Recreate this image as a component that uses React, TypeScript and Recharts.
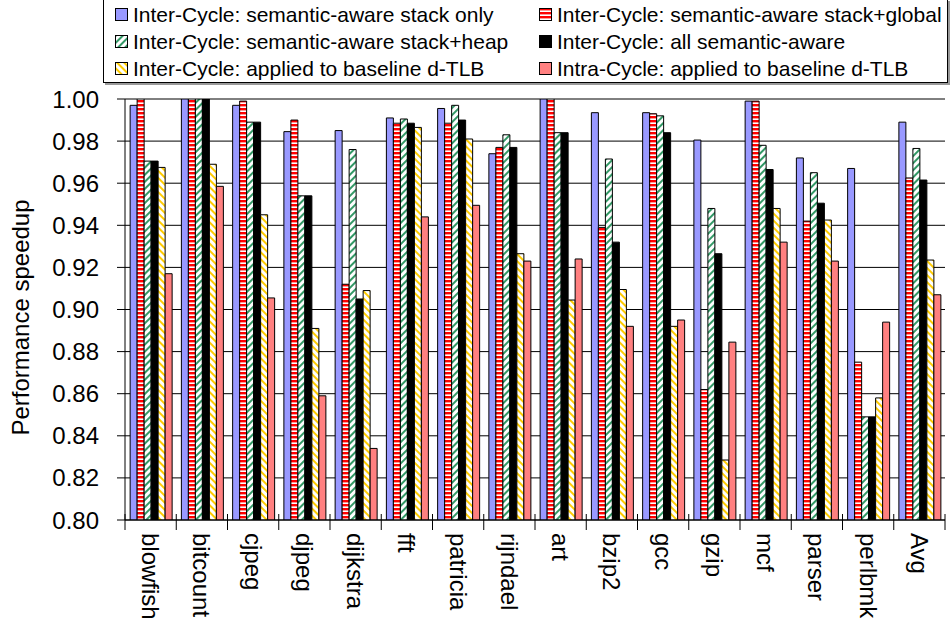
import React from 'react';
import { BarChart, Bar, XAxis, YAxis, CartesianGrid, Legend, Label } from 'recharts';

// Benchmarks on the x axis
const categories = ['blowfish', 'bitcount', 'cjpeg', 'djpeg', 'dijkstra', 'fft', 'patricia', 'rijndael', 'art', 'bzip2', 'gcc', 'gzip', 'mcf', 'parser', 'perlbmk', 'Avg'];

// Performance speedup per configuration
const stackOnly = [0.997, 1.0, 0.997, 0.9845, 0.985, 0.991, 0.9955, 0.974, 1.0, 0.9935, 0.9935, 0.9805, 0.999, 0.972, 0.967, 0.989];
const stackGlobal = [1.0, 1.0, 0.999, 0.990, 0.912, 0.9885, 0.9885, 0.977, 1.0, 0.939, 0.993, 0.862, 0.999, 0.942, 0.875, 0.9625];
const stackHeap = [0.9705, 1.0, 0.989, 0.954, 0.976, 0.9905, 0.997, 0.983, 0.984, 0.9715, 0.992, 0.948, 0.978, 0.965, 0.849, 0.9765];
const allSemantic = [0.9705, 1.0, 0.989, 0.954, 0.905, 0.9885, 0.990, 0.977, 0.984, 0.932, 0.984, 0.9265, 0.9665, 0.9505, 0.849, 0.9615];
const interBaseline = [0.9675, 0.969, 0.945, 0.891, 0.909, 0.9865, 0.981, 0.9265, 0.9045, 0.9095, 0.892, 0.8285, 0.948, 0.9425, 0.858, 0.9235];
const intraBaseline = [0.917, 0.9585, 0.9055, 0.859, 0.834, 0.944, 0.9495, 0.923, 0.924, 0.892, 0.895, 0.8845, 0.932, 0.923, 0.894, 0.907];

const yTicks = [0.8, 0.82, 0.84, 0.86, 0.88, 0.9, 0.92, 0.94, 0.96, 0.98, 1.0];

const seriesNames = [
  'Inter-Cycle: semantic-aware stack only',
  'Inter-Cycle: semantic-aware stack+global',
  'Inter-Cycle: semantic-aware stack+heap',
  'Inter-Cycle: all semantic-aware',
  'Inter-Cycle: applied to baseline d-TLB',
  'Intra-Cycle: applied to baseline d-TLB',
];
const seriesValues = [stackOnly, stackGlobal, stackHeap, allSemantic, interBaseline, intraBaseline];
const seriesFills = ['#9999FF', 'url(#hStripeRed)', 'url(#dStripeGreen)', '#000000', 'url(#dStripeGold)', '#FF8080'];
const seriesKeys = ['s0', 's1', 's2', 's3', 's4', 's5'];

const data = categories.map((name, i) => {
  const row: Record<string, string | number> = { name };
  seriesKeys.forEach((k, j) => {
    row[k] = seriesValues[j][i];
  });
  return row;
});

const W = 950;
const H = 636;
const M = { top: 99, right: 5, bottom: 0, left: 0 };
const Y_AXIS_W = 125;
const X_AXIS_H = H - 520;
const FONT = '"Liberation Sans", Arial, sans-serif';
const BAND = (W - Y_AXIS_W - M.right - M.left) / categories.length;

const PatternDefs = () => (
  <svg width={0} height={0} style={{ position: 'absolute' }}>
    <defs>
      <pattern id="hStripeRed" patternUnits="userSpaceOnUse" width={4} height={4}>
        <rect x={0} y={0} width={4} height={4} fill="#FFFFFF" />
        <rect x={0} y={0} width={4} height={2.4} fill="#FF0000" />
      </pattern>
      <pattern id="dStripeGreen" patternUnits="userSpaceOnUse" width={5} height={5} patternTransform="rotate(45)">
        <rect x={0} y={0} width={5} height={5} fill="#FFFFFF" />
        <rect x={0} y={0} width={2} height={5} fill="#339966" />
      </pattern>
      <pattern id="dStripeGold" patternUnits="userSpaceOnUse" width={5} height={5} patternTransform="rotate(-45)">
        <rect x={0} y={0} width={5} height={5} fill="#FFFFFF" />
        <rect x={0} y={0} width={2} height={5} fill="#FFCC00" />
      </pattern>
    </defs>
  </svg>
);

const CategoryTick = (props: any) => {
  const { x, y, payload, index } = props;
  const half = BAND / 2;
  return (
    <g>
      <line x1={x - half} x2={x - half} y1={y - 6} y2={y + 10} stroke="#000" strokeWidth={1} />
      {index === categories.length - 1 && (
        <line x1={x + half} x2={x + half} y1={y - 6} y2={y + 10} stroke="#000" strokeWidth={1} />
      )}
      <text
        x={x}
        y={y + 13}
        transform={`rotate(90 ${x} ${y + 13})`}
        textAnchor="start"
        dominantBaseline="central"
        fontFamily={FONT}
        fontSize={24}
        fill="#000"
      >
        {payload.value}
      </text>
    </g>
  );
};

const AxisTitle = (props: any) => {
  const { viewBox } = props;
  const cx = 20;
  const cy = viewBox.y + viewBox.height / 2 + 8;
  return (
    <text
      x={cx}
      y={cy}
      transform={`rotate(-90 ${cx} ${cy})`}
      textAnchor="middle"
      dominantBaseline="central"
      fontFamily={FONT}
      fontSize={24}
      fill="#000"
    >
      Performance speedup
    </text>
  );
};

const LegendBox = () => (
  <div
    style={{
      boxSizing: 'border-box',
      width: 845,
      height: 84,
      border: '1px solid #000',
      boxShadow: '2px 2px 0 #999',
      background: '#fff',
      position: 'relative',
      fontFamily: FONT,
      fontSize: 21,
      color: '#000',
    }}
  >
    {seriesNames.map((label, i) => {
      const col = i % 2;
      const row = Math.floor(i / 2);
      return (
        <div
          key={label}
          style={{
            position: 'absolute',
            left: col === 0 ? 11 : 435,
            top: 15 + row * 27 - 11,
            height: 22,
            display: 'flex',
            alignItems: 'center',
            whiteSpace: 'nowrap',
          }}
        >
          <svg width={14} height={14} style={{ marginRight: 4 }}>
            <rect x={0.5} y={0.5} width={12} height={12} fill={seriesFills[i]} stroke="#000" strokeWidth={1} />
          </svg>
          <span>{label}</span>
        </div>
      );
    })}
  </div>
);

export default function App() {
  return (
    <div style={{ position: 'absolute', left: 0, top: 0, width: W, height: H, background: '#fff' }}>
      <PatternDefs />
      <BarChart
        width={W}
        height={H}
        data={data}
        margin={M}
        barCategoryGap="10%"
        barGap={0}
      >
        <CartesianGrid horizontal vertical={false} stroke="#000" strokeWidth={1} />
        <XAxis
          dataKey="name"
          type="category"
          height={X_AXIS_H}
          axisLine={{ stroke: '#000', strokeWidth: 1 }}
          tickLine={false}
          tickSize={0}
          tickMargin={0}
          interval={0}
          tick={<CategoryTick />}
        />
        <YAxis
          type="number"
          domain={[0.8, 1.0]}
          ticks={yTicks}
          width={Y_AXIS_W}
          allowDataOverflow
          tickFormatter={(v: number) => v.toFixed(2)}
          axisLine={{ stroke: '#000', strokeWidth: 1 }}
          tickLine={{ stroke: '#000', strokeWidth: 1 }}
          tickSize={8}
          tickMargin={18}
          tick={{ fontFamily: FONT, fontSize: 24, fill: '#000' }}
        >
          <Label content={<AxisTitle />} />
        </YAxis>
        <Legend
          layout="vertical"
          align="center"
          verticalAlign="middle"
          wrapperStyle={{ top: -1, left: 103, width: 845, height: 84 }}
          content={() => <LegendBox />}
        />
        {seriesKeys.map((k, j) => (
          <Bar
            key={k}
            dataKey={k}
            name={seriesNames[j]}
            fill={seriesFills[j]}
            stroke="#000"
            strokeWidth={1}
            isAnimationActive={false}
          />
        ))}
      </BarChart>
    </div>
  );
}
